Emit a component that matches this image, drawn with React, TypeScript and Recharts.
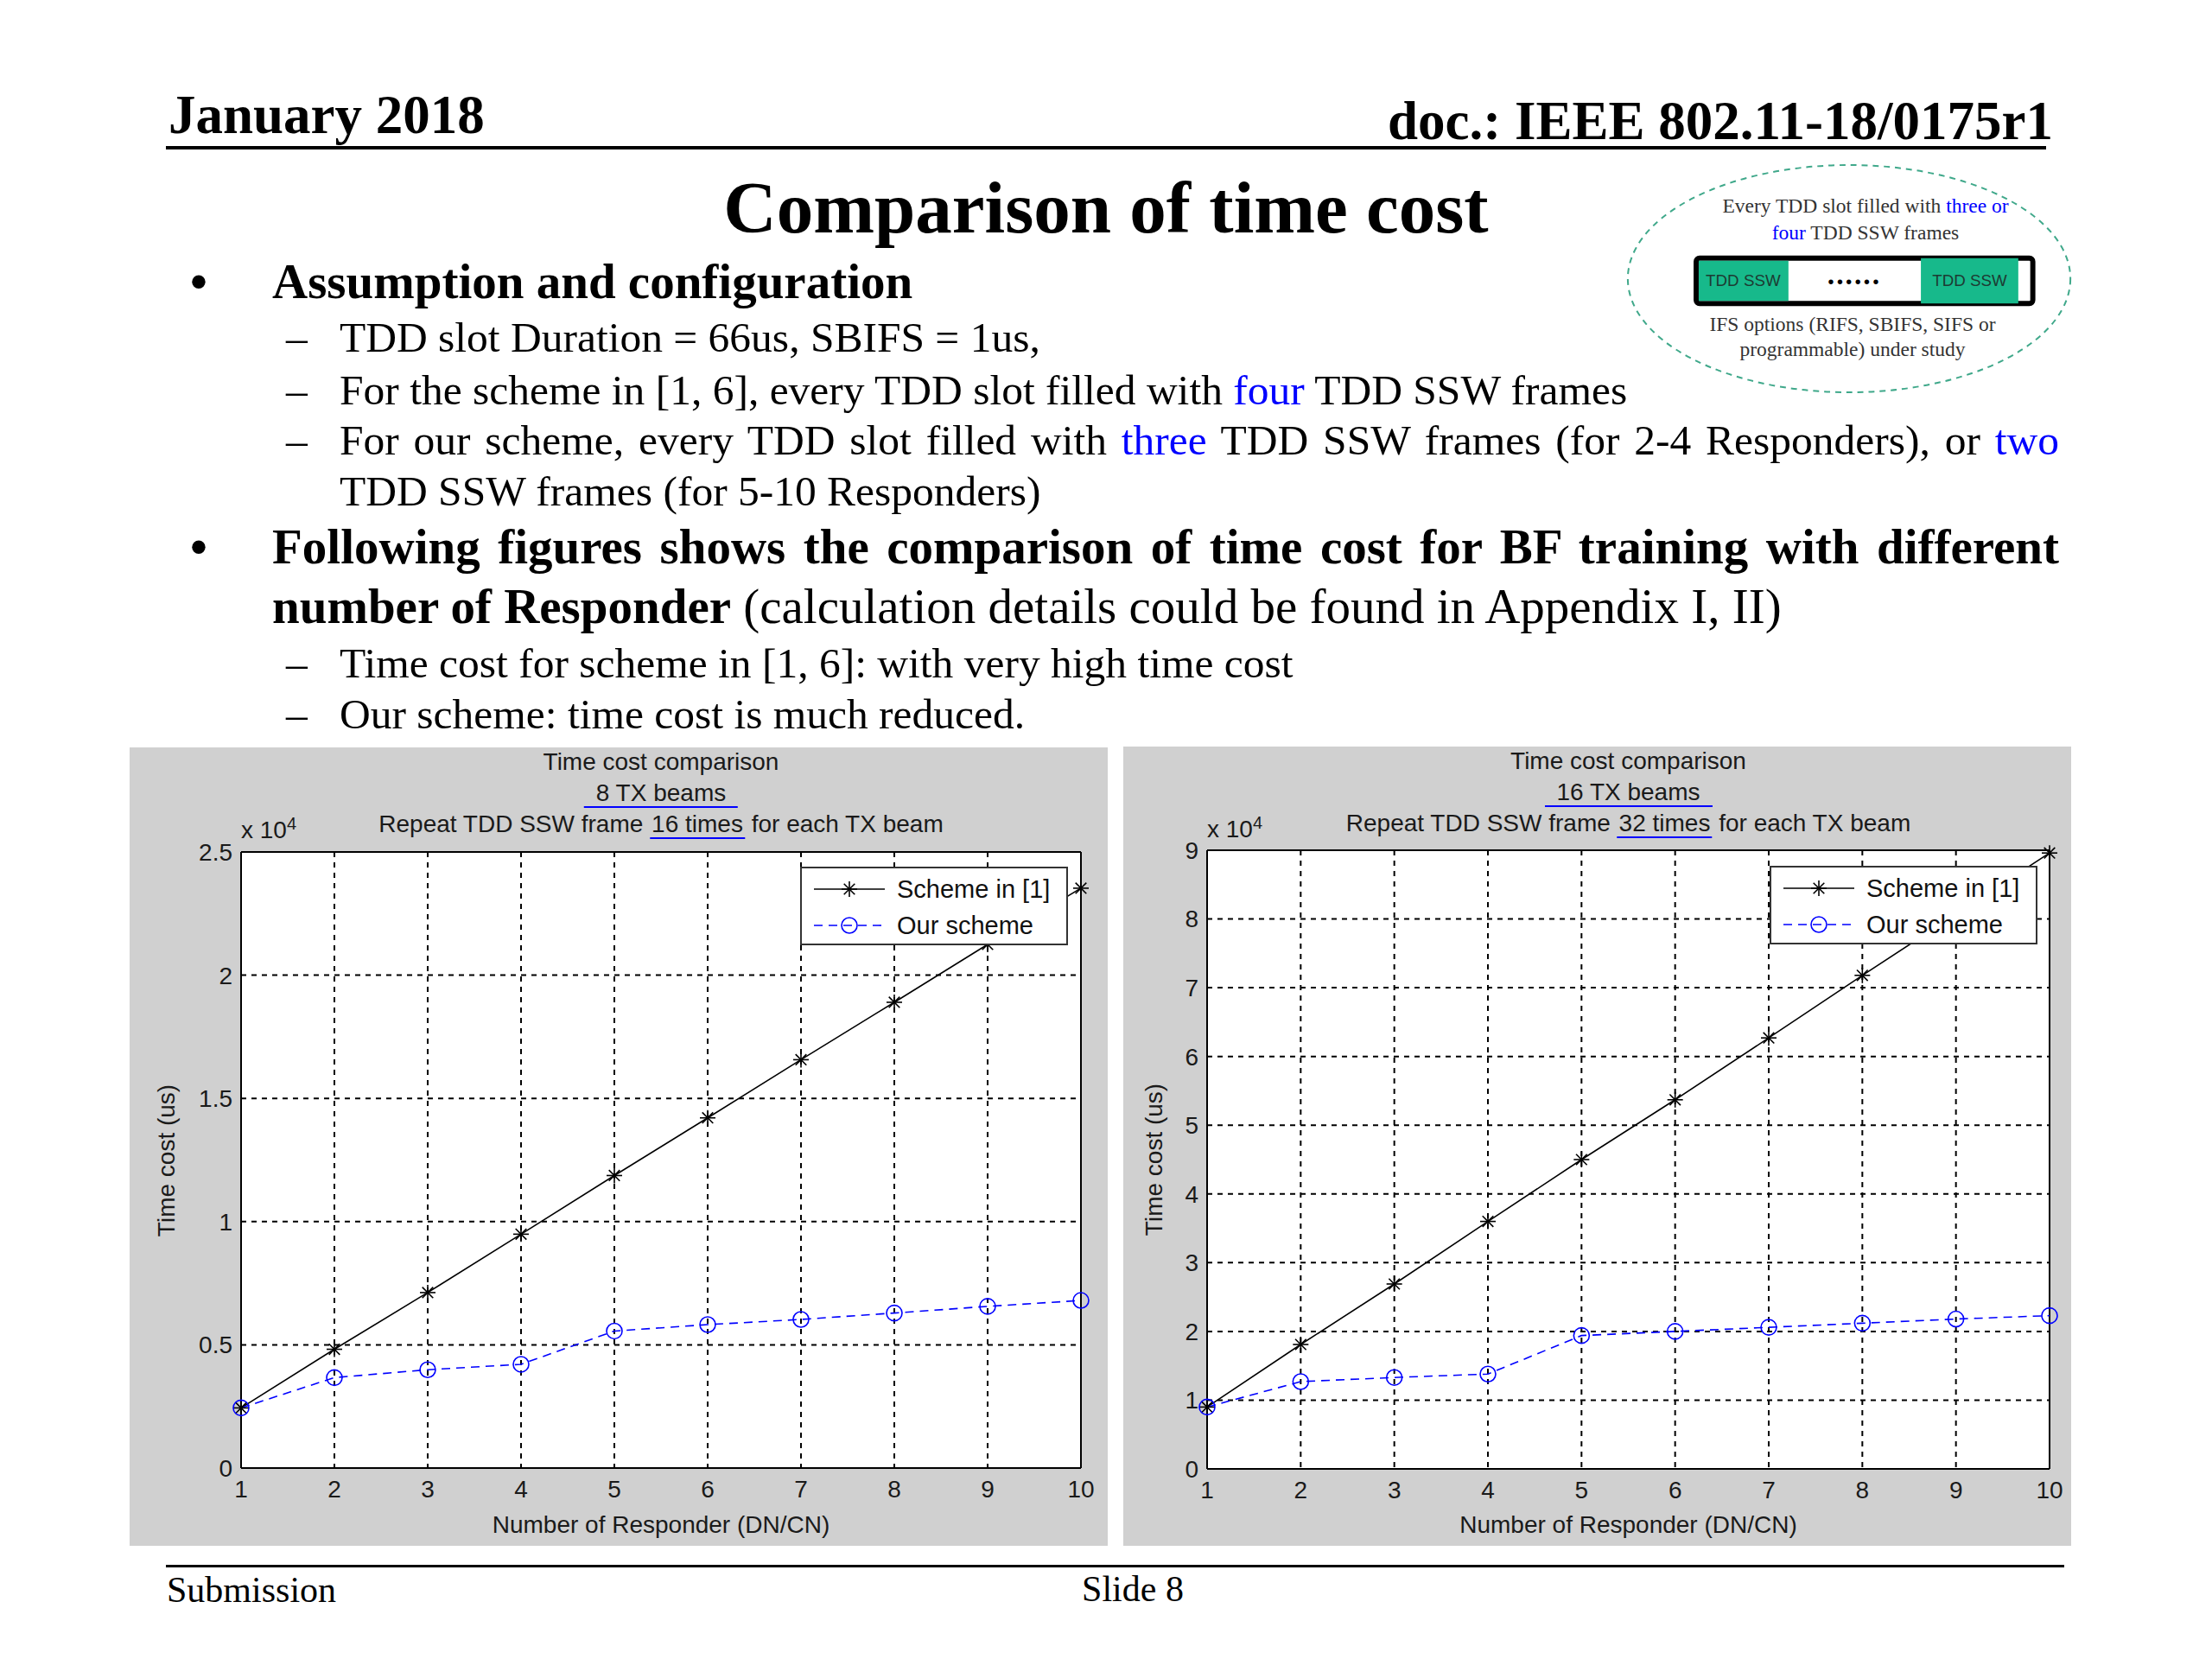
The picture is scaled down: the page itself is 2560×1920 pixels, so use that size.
import { CartesianGrid, Legend, Line, LineChart, ReferenceLine, XAxis, YAxis } from 'recharts';

const responders = [1, 2, 3, 4, 5, 6, 7, 8, 9, 10];

// 8 TX beams, repeat 16 times (us)
const scheme1Beams8 = [2440, 4820, 7120, 9490, 11870, 14210, 16570, 18900, 21250, 23530];
const ourBeams8 = [2440, 3670, 3990, 4210, 5560, 5820, 6030, 6290, 6560, 6800];
const yTicksBeams8 = [0, 5000, 10000, 15000, 20000, 25000];

// 16 TX beams, repeat 32 times (us)
const scheme1Beams16 = [9000, 18100, 26900, 36000, 45000, 53700, 62700, 71800, 80700, 89600];
const ourBeams16 = [9000, 12700, 13300, 13800, 19400, 20000, 20600, 21200, 21800, 22300];
const yTicksBeams16 = [0, 10000, 20000, 30000, 40000, 50000, 60000, 70000, 80000, 90000];

const seriesNames = ['Scheme in [1]', 'Our scheme'];

const SERIF = "'Liberation Serif', 'Times New Roman', serif";
const SANS = "'Liberation Sans', Arial, sans-serif";
const PANEL_GRAY = '#d0d0d0';
const BLUE = '#0000ff';
const TEAL = '#17b98b';

function Star({ cx, cy, r = 9 }: { cx: number; cy: number; r?: number }) {
  const d = r * 0.7;
  return (
    <g stroke="#000" strokeWidth={1.6}>
      <line x1={cx - r} y1={cy} x2={cx + r} y2={cy} />
      <line x1={cx} y1={cy - r} x2={cx} y2={cy + r} />
      <line x1={cx - d} y1={cy - d} x2={cx + d} y2={cy + d} />
      <line x1={cx - d} y1={cy + d} x2={cx + d} y2={cy - d} />
    </g>
  );
}

const renderStar = (props: any) => {
  const { cx, cy, index } = props;
  if (cx == null || cy == null) return <g key={`s-${index}`} />;
  return (
    <g key={`s-${index}`}>
      <Star cx={cx} cy={cy} />
    </g>
  );
};

const renderLegend = () => (
  <div
    style={{
      width: 310,
      height: 91,
      boxSizing: 'border-box',
      background: '#fff',
      border: '2px solid #333',
      position: 'relative',
      fontFamily: SANS,
      fontSize: 29,
      color: '#111',
    }}
  >
    <svg width={306} height={87} style={{ position: 'absolute', left: 0, top: 0 }}>
      <line x1={14} y1={24} x2={96} y2={24} stroke="#000" strokeWidth={1.6} />
      <Star cx={55} cy={24} />
      <line x1={14} y1={66} x2={96} y2={66} stroke={BLUE} strokeWidth={1.6} strokeDasharray="10 7" />
      <circle cx={55} cy={66} r={9} stroke={BLUE} strokeWidth={1.6} fill="none" />
    </svg>
    <div style={{ position: 'absolute', left: 110, top: 24, transform: 'translateY(-50%)', whiteSpace: 'nowrap' }}>
      {seriesNames[0]}
    </div>
    <div style={{ position: 'absolute', left: 110, top: 66, transform: 'translateY(-50%)', whiteSpace: 'nowrap' }}>
      {seriesNames[1]}
    </div>
  </div>
);

type PanelProps = {
  left: number;
  top: number;
  width: number;
  height: number;
  plot: { left: number; right: number; top: number; bottom: number };
  beams: string;
  repeats: string;
  scheme: number[];
  ours: number[];
  yTicks: number[];
  legendLeft: number;
  yLabelX: number;
};

function TimeCostPanel(p: PanelProps) {
  const rows = responders.map((n, i) => ({ n, scheme: p.scheme[i], ours: p.ours[i] }));
  const plotW = p.width - p.plot.left - p.plot.right;
  const plotH = p.height - p.plot.top - p.plot.bottom;
  const cx = p.plot.left + plotW / 2;
  const yMax = p.yTicks[p.yTicks.length - 1];
  const txt = { fill: '#1a1a1a', fontSize: 28, fontFamily: SANS };
  const line = (top: number, children: any) => (
    <div
      style={{
        position: 'absolute',
        left: cx,
        top,
        transform: 'translate(-50%, -50%)',
        whiteSpace: 'nowrap',
        fontFamily: SANS,
        fontSize: 28,
        color: '#1a1a1a',
        lineHeight: '32px',
      }}
    >
      {children}
    </div>
  );
  const ul = (s: string, pad: string) => (
    <span style={{ borderBottom: `2px solid ${BLUE}`, padding: pad }}>{s}</span>
  );
  return (
    <div
      style={{
        position: 'absolute',
        left: p.left,
        top: p.top,
        width: p.width,
        height: p.height,
        background: PANEL_GRAY,
      }}
    >
      <LineChart
        width={p.width}
        height={p.height}
        data={rows}
        margin={{ top: p.plot.top, right: p.plot.right, bottom: 0, left: 0 }}
      >
        <CartesianGrid fill="#fff" stroke="#000" strokeWidth={2} strokeDasharray="6 6" />
        <XAxis
          dataKey="n"
          type="number"
          domain={[1, 10]}
          ticks={responders}
          interval={0}
          height={p.plot.bottom}
          tickSize={0}
          tickMargin={14}
          axisLine={{ stroke: '#000', strokeWidth: 2 }}
          tick={txt}
          label={{ value: 'Number of Responder (DN/CN)', position: 'insideBottom', offset: 15, ...txt }}
        />
        <YAxis
          type="number"
          domain={[0, yMax]}
          ticks={p.yTicks}
          interval={0}
          width={p.plot.left}
          tickSize={0}
          tickMargin={10}
          axisLine={{ stroke: '#000', strokeWidth: 2 }}
          tick={txt}
          tickFormatter={(v: number) => String(v / 10000)}
        />
        <ReferenceLine y={yMax} stroke="#000" strokeWidth={2} />
        <ReferenceLine x={10} stroke="#000" strokeWidth={2} />
        <Legend
          layout="vertical"
          align="center"
          verticalAlign="middle"
          content={renderLegend}
          wrapperStyle={{ left: p.legendLeft, top: 138, width: 310, height: 91 }}
        />
        <Line
          dataKey="scheme"
          name={seriesNames[0]}
          stroke="#000"
          strokeWidth={1.6}
          dot={renderStar}
          activeDot={false}
          isAnimationActive={false}
        />
        <Line
          dataKey="ours"
          name={seriesNames[1]}
          stroke={BLUE}
          strokeWidth={1.6}
          strokeDasharray="10 7"
          dot={{ r: 9, stroke: BLUE, strokeWidth: 1.6, fill: 'none', strokeDasharray: '' }}
          activeDot={false}
          isAnimationActive={false}
        />
      </LineChart>
      {line(17, 'Time cost comparison')}
      {line(53, ul(p.beams, '0 14px'))}
      {line(89, (
        <>
          Repeat TDD SSW frame {ul(p.repeats, '0 2px')} for each TX beam
        </>
      ))}
      <div
        style={{
          position: 'absolute',
          left: p.plot.left,
          top: 80,
          fontFamily: SANS,
          fontSize: 28,
          color: '#1a1a1a',
          whiteSpace: 'nowrap',
          lineHeight: '32px',
        }}
      >
        x 10<sup style={{ fontSize: 20, verticalAlign: 'top', position: 'relative', top: -8 }}>4</sup>
      </div>
      <div
        style={{
          position: 'absolute',
          left: p.yLabelX,
          top: p.plot.top + plotH / 2,
          transform: 'translate(-50%, -50%) rotate(-90deg)',
          fontFamily: SANS,
          fontSize: 28,
          color: '#1a1a1a',
          whiteSpace: 'nowrap',
        }}
      >
        Time cost (us)
      </div>
    </div>
  );
}

function Txt({
  x,
  baseline,
  size,
  bold,
  align = 'left',
  children,
}: {
  x: number;
  baseline: number;
  size: number;
  bold?: boolean;
  align?: 'left' | 'center' | 'right';
  children: any;
}) {
  const shift = align === 'center' ? '-50%' : align === 'right' ? '-100%' : '0';
  return (
    <div
      style={{
        position: 'absolute',
        left: x,
        top: baseline - 0.8375 * size,
        transform: `translateX(${shift})`,
        fontFamily: SERIF,
        fontSize: size,
        fontWeight: bold ? 'bold' : 'normal',
        lineHeight: 1,
        whiteSpace: 'nowrap',
        color: '#000',
      }}
    >
      {children}
    </div>
  );
}

function JustLine({ x, baseline, size, width, bold, children }: any) {
  return (
    <div
      style={{
        position: 'absolute',
        left: x,
        top: baseline - 0.8375 * size,
        width,
        fontFamily: SERIF,
        fontSize: size,
        fontWeight: bold ? 'bold' : 'normal',
        lineHeight: 1,
        textAlign: 'justify',
        textAlignLast: 'justify',
        color: '#000',
      }}
    >
      {children}
    </div>
  );
}

const blue = (s: string) => <span style={{ color: BLUE }}>{s}</span>;

function Inset() {
  return (
    <>
      <svg
        width={534}
        height={287}
        viewBox="0 0 540 290"
        style={{ position: 'absolute', left: 1874, top: 181 }}
      >
        <ellipse cx={269} cy={143} rx={259} ry={133} fill="none" stroke="#3fa88a" strokeWidth={2} strokeDasharray="7 6" />
        <rect x={90} y={119} width={394} height={53} rx={4} fill="#fff" stroke="#000" strokeWidth={6} />
        <rect x={93} y={122} width={105} height={47} fill={TEAL} />
        <rect x={353} y={119} width={114} height={53} fill={TEAL} />
        <text x={145} y={152} textAnchor="middle" fontFamily={SANS} fontSize={19} fill="#1d3b33">TDD SSW</text>
        <text x={410} y={152} textAnchor="middle" fontFamily={SANS} fontSize={19} fill="#1d3b33">TDD SSW</text>
        <text x={275} y={150} textAnchor="middle" fontFamily={SERIF} fontSize={34} fontWeight="bold" fill="#000" letterSpacing={2}>......</text>
      </svg>
      <Txt x={2159} baseline={247} size={23.5} align="center">
        <span style={{ color: '#333' }}>Every TDD slot filled with </span>
        {blue('three or')}
      </Txt>
      <Txt x={2159} baseline={278} size={23.5} align="center">
        {blue('four')}
        <span style={{ color: '#333' }}> TDD SSW frames</span>
      </Txt>
      <Txt x={2144} baseline={384} size={23.5} align="center">
        <span style={{ color: '#333' }}>IFS options (RIFS, SBIFS, SIFS or</span>
      </Txt>
      <Txt x={2144} baseline={413} size={23.5} align="center">
        <span style={{ color: '#333' }}>programmable) under study</span>
      </Txt>
    </>
  );
}

export default function App() {
  return (
    <div style={{ position: 'absolute', left: 0, top: 0, width: 2560, height: 1920, background: '#fff', overflow: 'hidden' }}>
      <Txt x={195} baseline={155} size={63} bold>January 2018</Txt>
      <Txt x={2376} baseline={162} size={63} bold align="right">doc.: IEEE 802.11-18/0175r1</Txt>
      <div style={{ position: 'absolute', left: 192, top: 169, width: 2176, height: 4, background: '#000' }} />

      <Txt x={1280} baseline={269} size={85} bold align="center">Comparison of time cost</Txt>
      <Inset />

      <Txt x={220} baseline={345} size={57} bold>•</Txt>
      <Txt x={315} baseline={345} size={57} bold>Assumption and configuration</Txt>

      <Txt x={331} baseline={407} size={49.5}>–</Txt>
      <Txt x={393} baseline={407} size={49.5}>TDD slot Duration = 66us, SBIFS = 1us,</Txt>
      <Txt x={331} baseline={468} size={49.5}>–</Txt>
      <Txt x={393} baseline={468} size={49.5}>
        For the scheme in [1, 6], every TDD slot filled with {blue('four')} TDD SSW frames
      </Txt>
      <Txt x={331} baseline={526} size={49.5}>–</Txt>
      <JustLine x={393} baseline={526} size={49.5} width={1990}>
        For our scheme, every TDD slot filled with {blue('three')} TDD SSW frames (for 2-4 Responders), or {blue('two')}
      </JustLine>
      <Txt x={393} baseline={585} size={49.5}>TDD SSW frames (for 5-10 Responders)</Txt>

      <Txt x={220} baseline={652} size={57} bold>•</Txt>
      <JustLine x={315} baseline={652} size={57} width={2068} bold>
        Following figures shows the comparison of time cost for BF training with different
      </JustLine>
      <Txt x={315} baseline={721} size={57}>
        <b>number of Responder</b> (calculation details could be found in Appendix I, II)
      </Txt>
      <Txt x={331} baseline={784} size={49.5}>–</Txt>
      <Txt x={393} baseline={784} size={49.5}>Time cost for scheme in [1, 6]: with very high time cost</Txt>
      <Txt x={331} baseline={843} size={49.5}>–</Txt>
      <Txt x={393} baseline={843} size={49.5}>Our scheme: time cost is much reduced.</Txt>

      <TimeCostPanel
        left={150}
        top={865}
        width={1132}
        height={924}
        plot={{ left: 129, right: 31, top: 121, bottom: 90 }}
        beams="8 TX beams"
        repeats="16 times"
        scheme={scheme1Beams8}
        ours={ourBeams8}
        yTicks={yTicksBeams8}
        legendLeft={776}
        yLabelX={43}
      />
      <TimeCostPanel
        left={1300}
        top={864}
        width={1097}
        height={925}
        plot={{ left: 97, right: 25, top: 120, bottom: 89 }}
        beams="16 TX beams"
        repeats="32 times"
        scheme={scheme1Beams16}
        ours={ourBeams16}
        yTicks={yTicksBeams16}
        legendLeft={748}
        yLabelX={36}
      />

      <div style={{ position: 'absolute', left: 192, top: 1811, width: 2197, height: 3, background: '#000' }} />
      <Txt x={193} baseline={1854} size={42}>Submission</Txt>
      <Txt x={1311} baseline={1853} size={42} align="center">Slide 8</Txt>
    </div>
  );
}
